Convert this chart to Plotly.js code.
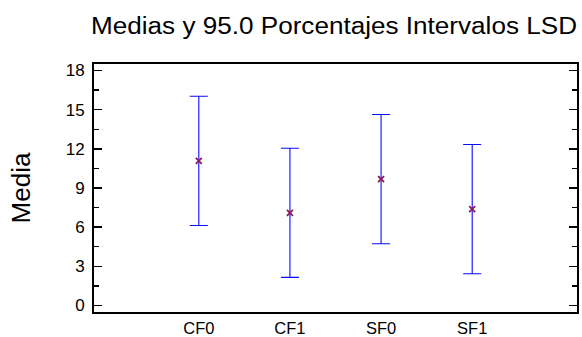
<!DOCTYPE html>
<html>
<head>
<meta charset="utf-8">
<script src="https://cdn.plot.ly/plotly-3.0.1.min.js"></script>
<style>
  html, body { margin: 0; padding: 0; background: #fff; }
  #chart { width: 582px; height: 337px; }
</style>
</head>
<body>
<div id="chart"></div>
<script>
// Group means with 95% LSD interval half-widths
const groups = ['CF0', 'CF1', 'SF0', 'SF1'];
const means = [11.08, 7.10, 9.68, 7.38];
const lsdHalfWidth = [4.95, 4.95, 4.95, 4.95];
const yTickValues = [0, 3, 6, 9, 12, 15, 18];

const font = 'Liberation Sans, Arial, Helvetica, sans-serif';

const trace = {
  type: 'scatter',
  mode: 'markers',
  x: groups,
  y: means,
  error_y: {
    type: 'data',
    array: lsdHalfWidth,
    symmetric: true,
    color: 'rgb(10,10,255)',
    thickness: 1.1,
    width: 9
  },
  marker: {
    symbol: 'x-thin-open',
    size: 6,
    color: '#8a1a5a',
    line: { color: '#8a1a5a', width: 1.8 }
  },
  hoverinfo: 'x+y'
};

const layout = {
  width: 582,
  height: 337,
  margin: { l: 94, r: 5, t: 64, b: 25 },
  paper_bgcolor: '#fff',
  plot_bgcolor: '#fff',
  showlegend: false,
  font: { family: font, color: '#000' },
  title: {
    text: 'Medias y 95.0 Porcentajes Intervalos LSD',
    font: { family: font, size: 23, color: '#000' },
    xref: 'container',
    x: 334 / 582,
    xanchor: 'center',
    yref: 'container',
    y: 1 - 26 / 337,
    yanchor: 'middle'
  },
  xaxis: {
    type: 'category',
    range: [-1.15, 4.15],
    showgrid: false,
    zeroline: false,
    showline: true,
    linecolor: '#000',
    linewidth: 2,
    mirror: true,
    ticks: '',
    tickfont: { family: font, size: 16.5, color: '#000' },
    fixedrange: true
  },
  yaxis: {
    range: [-0.5, 18.5],
    tickvals: yTickValues,
    ticktext: yTickValues.map(String),
    showgrid: false,
    zeroline: false,
    showline: true,
    linecolor: '#000',
    linewidth: 2,
    mirror: 'allticks',
    ticks: 'inside',
    ticklen: 8,
    tickwidth: 1.5,
    tickcolor: '#000',
    ticklabelstandoff: 4,
    minor: {
      tick0: 0,
      dtick: 1.5,
      ticks: 'inside',
      ticklen: 5,
      tickwidth: 1.5,
      tickcolor: '#000'
    },
    tickfont: { family: font, size: 17, color: '#000' },
    title: {
      text: 'Media',
      font: { family: font, size: 26, color: '#000' },
      standoff: 28
    },
    automargin: false,
    fixedrange: true
  }
};

Plotly.newPlot('chart', [trace], layout, { staticPlot: true, displayModeBar: false }).then(function (gd) {
  // Stretch the heading across the plot width
  const t = gd.querySelector('.g-gtitle text');
  if (t) {
    t.setAttribute('textLength', '486');
    t.setAttribute('lengthAdjust', 'spacingAndGlyphs');
  }
});
</script>
</body>
</html>
